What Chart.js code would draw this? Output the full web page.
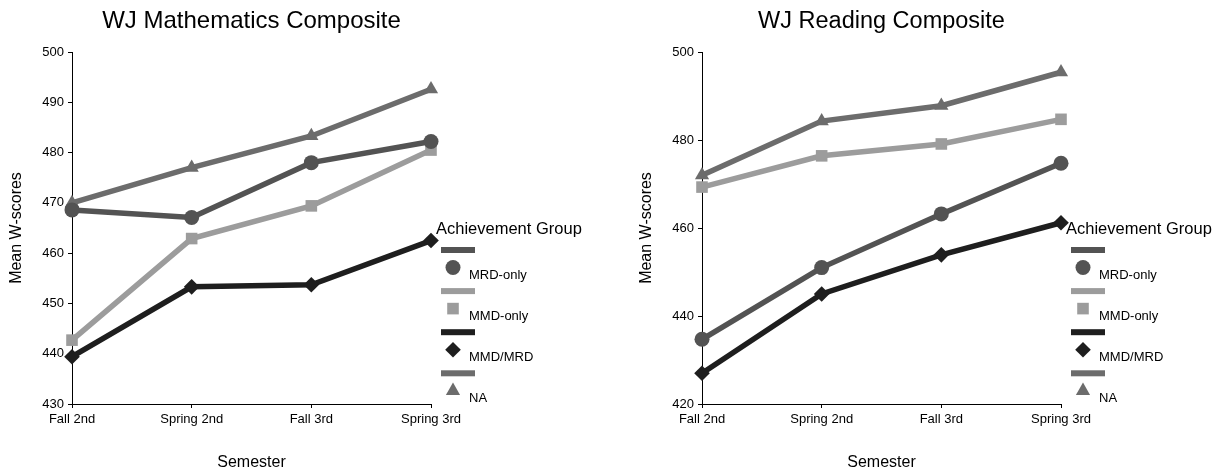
<!DOCTYPE html>
<html><head><meta charset="utf-8">
<script src="https://cdn.jsdelivr.net/npm/chart.js@4.4.1/dist/chart.umd.min.js"></script>
<style>
body{margin:0;background:#fff;width:1220px;height:471px;overflow:hidden;position:relative;}
.box{position:absolute;top:0;width:590px;height:471px;}
</style></head><body>
<div class="box" style="left:0"><canvas id="c1" width="590" height="471"></canvas></div>
<div class="box" style="left:630px"><canvas id="c2" width="590" height="471"></canvas></div>
<script>
// ---- data ----
const semesters = ['Fall 2nd', 'Spring 2nd', 'Fall 3rd', 'Spring 3rd'];
const groups = ['MRD-only', 'MMD-only', 'MMD/MRD', 'NA'];

const mathMRD    = [468.6, 467.1, 478.0, 482.2];
const mathMMD    = [442.7, 462.9, 469.4, 480.5];
const mathBoth   = [439.4, 453.3, 453.7, 462.5];
const mathNA     = [470.0, 477.0, 483.3, 492.6];

const readMRD    = [434.7, 451.0, 463.2, 474.7];
const readMMD    = [469.3, 476.4, 479.1, 484.7];
const readBoth   = [427.0, 445.0, 453.9, 461.2];
const readNA     = [472.0, 484.3, 487.8, 495.4];

const mathTicks = [430, 500, 10]; // min, max, step
const readTicks = [420, 500, 20];

// ---- styles ----
const FONT = '"Liberation Sans", Arial, Helvetica, sans-serif';
Chart.defaults.font.family = FONT;
Chart.defaults.color = '#000';

const colors = ['#535353', '#9c9c9c', '#1e1e1e', '#6c6c6c'];
const shapes = ['circle', 'rect', 'rectRot', 'triangle'];
const radii  = [7.5, 8.2, 7.8, 8.2];
const orders = [1, 2, 0, 3];

function makeDatasets(series) {
  return series.map((vals, i) => ({
    label: groups[i],
    data: vals,
    borderColor: colors[i],
    backgroundColor: colors[i],
    borderWidth: 5.5,
    pointStyle: shapes[i],
    pointRadius: radii[i],
    pointHoverRadius: radii[i],
    pointBackgroundColor: colors[i],
    pointBorderColor: colors[i],
    pointBorderWidth: 0,
    tension: 0,
    clip: false,
    order: orders[i]
  }));
}

const decor = {
  id: 'decor',
  afterDraw(chart, args, opts) {
    const ctx = chart.ctx;
    const ca = chart.chartArea;
    ctx.save();
    // title
    ctx.fillStyle = '#000';
    ctx.font = opts.titleSize + 'px ' + FONT;
    ctx.textAlign = 'center';
    ctx.textBaseline = 'alphabetic';
    ctx.fillText(opts.title, (ca.left + ca.right) / 2, 28);
    // legend
    const lx = 436;
    ctx.textAlign = 'left';
    ctx.font = '16.5px ' + FONT;
    ctx.fillText('Achievement Group', lx, 234);
    ctx.font = '13px ' + FONT;
    for (let i = 0; i < groups.length; i++) {
      const y0 = 250 + i * 41.1;
      ctx.fillStyle = colors[i];
      ctx.fillRect(441, y0 - 3, 34, 6);
      ctx.strokeStyle = colors[i];
      Chart.helpers.drawPoint(ctx, {pointStyle: shapes[i], radius: radii[i], rotation: 0, borderWidth: 0}, 453, y0 + 17.5);
      ctx.fillStyle = '#000';
      ctx.fillText(groups[i], 469, y0 + 29);
    }
    ctx.restore();
  }
};

function makeChart(id, series, ticks, title, titleSize) {
  return new Chart(document.getElementById(id), {
    type: 'line',
    data: { labels: semesters, datasets: makeDatasets(series) },
    options: {
      responsive: false,
      animation: false,
      devicePixelRatio: 1,
      layout: { padding: { top: 52, right: 159, left: 0, bottom: 0 } },
      plugins: {
        legend: { display: false },
        title: { display: false },
        tooltip: { enabled: false },
        decor: { title: title, titleSize: titleSize }
      },
      scales: {
        x: {
          type: 'category',
          offset: false,
          afterFit(s) { s.height = 67; },
          grid: { display: true, drawOnChartArea: false, drawTicks: true, tickLength: 4, color: '#000' },
          border: { display: true, color: '#000', width: 1 },
          ticks: { font: { size: 13 }, padding: 4, maxRotation: 0, autoSkip: false, color: '#000' },
          title: { display: true, text: 'Semester', font: { size: 16 }, padding: { top: 0, bottom: -1.5 }, color: '#000' }
        },
        y: {
          min: ticks[0], max: ticks[1],
          afterFit(s) { s.width = 72; },
          grid: { display: true, drawOnChartArea: false, drawTicks: true, tickLength: 4, color: '#000' },
          border: { display: true, color: '#000', width: 1 },
          ticks: { stepSize: ticks[2], font: { size: 13 }, padding: 4, color: '#000' },
          title: { display: true, text: 'Mean W-scores', font: { size: 16 }, padding: { top: 7, bottom: 0 }, color: '#000' }
        }
      }
    },
    plugins: [decor]
  });
}

makeChart('c1', [mathMRD, mathMMD, mathBoth, mathNA], mathTicks, 'WJ Mathematics Composite', 24);
makeChart('c2', [readMRD, readMMD, readBoth, readNA], readTicks, 'WJ Reading Composite', 23.5);
</script>
</body></html>
